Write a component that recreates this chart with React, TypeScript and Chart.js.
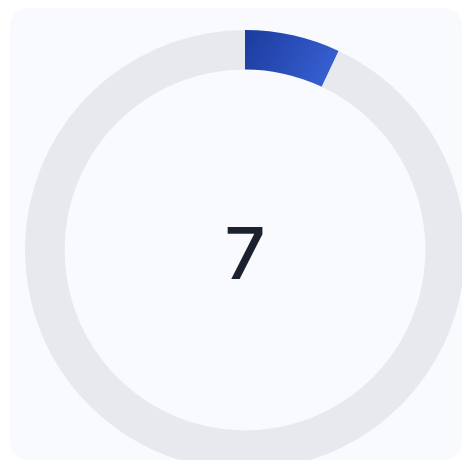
import React, { useEffect, useRef } from "react";
import { Chart, registerables } from "chart.js";

Chart.register(...registerables);

const labels: string[] = ["Value", "Remaining"];
const values: number[] = [7, 93];
const centerLabel = "7";

export default function App() {
  const ref = useRef<HTMLCanvasElement | null>(null);

  useEffect(() => {
    document.body.style.margin = "0";
    const canvas = ref.current;
    if (!canvas) return;

    const centerText = {
      id: "centerText",
      afterDraw(chart: any) {
        const meta = chart.getDatasetMeta(0);
        const arc = meta.data[0];
        if (!arc) return;
        const { x, y } = arc;
        const ctx = chart.ctx;
        ctx.save();
        ctx.fillStyle = "#1c2130";
        ctx.font = "500 72px Inter, 'Noto Sans', sans-serif";
        ctx.textAlign = "center";
        ctx.textBaseline = "middle";
        ctx.fillText(centerLabel, x, y + 7);
        ctx.restore();
      },
    };

    const chart = new Chart(canvas, {
      type: "doughnut",
      data: {
        labels,
        datasets: [
          {
            data: values,
            backgroundColor: (c: any) => {
              if (c.dataIndex !== 0) return "#e7e9ef";
              const area = c.chart.chartArea;
              if (!area) return "#2545b0";
              const cx = (area.left + area.right) / 2;
              const g = c.chart.ctx.createLinearGradient(cx, area.top, cx + 100, area.top + 55);
              g.addColorStop(0, "#1b3b9c");
              g.addColorStop(1, "#3d66dc");
              return g;
            },
            borderWidth: 0,
            hoverOffset: 0,
          },
        ],
      },
      options: {
        responsive: false,
        maintainAspectRatio: false,
        animation: false,
        cutout: "82%",
        layout: { padding: 0 },
        plugins: {
          legend: { display: false },
          tooltip: { enabled: false },
        },
      },
      plugins: [centerText],
    });

    return () => chart.destroy();
  }, []);

  return (
    <div
      style={{
        position: "relative",
        width: 465,
        height: 463,
        background: "#ffffff",
        overflow: "hidden",
      }}
    >
      <div
        style={{
          position: "absolute",
          left: 10,
          top: 8,
          width: 452,
          height: 452,
          borderRadius: 18,
          background: "#f8fafd",
          overflow: "hidden",
        }}
      >
        <canvas
          ref={ref}
          width={440}
          height={440}
          style={{ position: "absolute", left: 15, top: 22, width: 440, height: 440 }}
        />
      </div>
    </div>
  );
}
